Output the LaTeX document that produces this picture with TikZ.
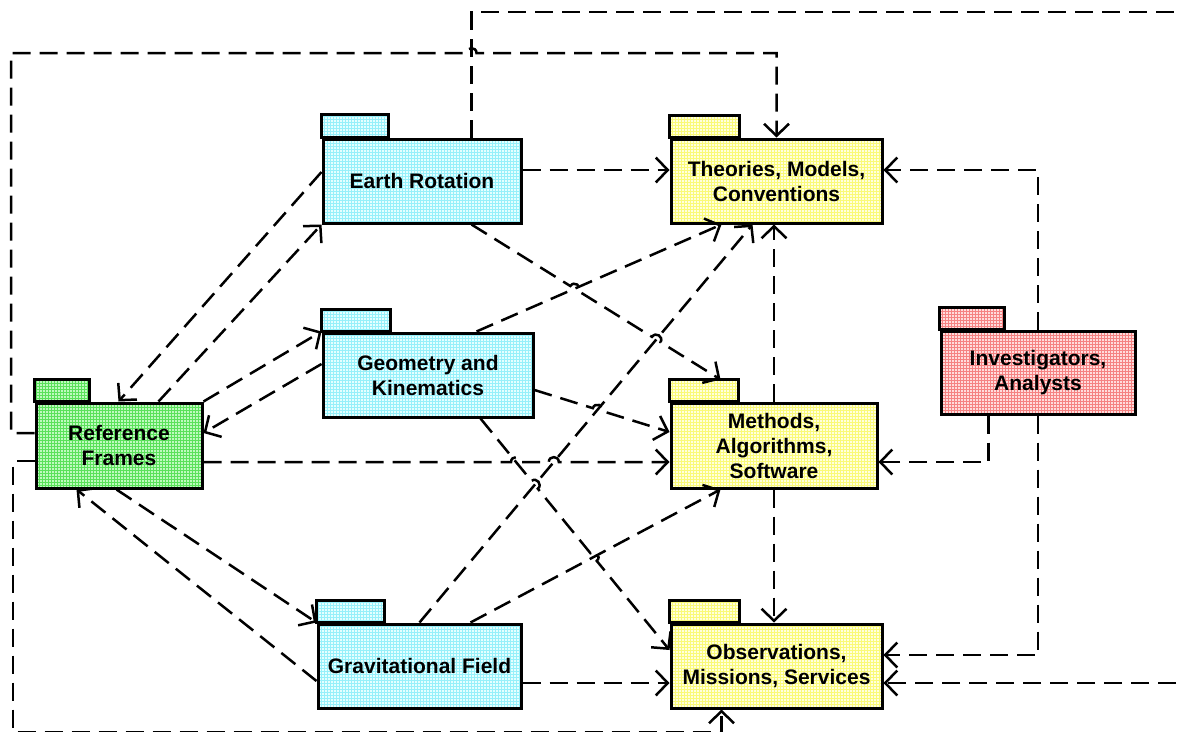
\documentclass[tikz,border=0pt]{standalone}
\usepackage{fontspec}
\setmainfont{Liberation Sans}
\usetikzlibrary{arrows.meta,calc,patterns,intersections}

\definecolor{cyanbg}{RGB}{228,255,255}
\definecolor{cyanln}{RGB}{150,240,250}
\definecolor{yelbg}{RGB}{255,255,222}
\definecolor{yelln}{RGB}{250,250,120}
\definecolor{grnbg}{RGB}{190,250,190}
\definecolor{grnln}{RGB}{90,225,90}
\definecolor{redbg}{RGB}{255,220,220}
\definecolor{redln}{RGB}{245,130,130}

\newcommand\pkgfont{\fontsize{21}{25}\selectfont\bfseries}
\newcommand\hoprad{5pt}
% a small jump over a crossing line: #1 start of the line, #2 crossing, #3 end of the line
\newcommand\hopover[3]{-- ($(#2)!\hoprad!(#1)$)
  .. controls ($(#2)!\hoprad!(#1)!1.3!90:(#2)$) and ($(#2)!\hoprad!(#3)!1.3!-90:(#2)$)
  .. ($(#2)!\hoprad!(#3)$)}

\tikzset{
  pkg/.style 2 args={draw, line width=3pt, inner sep=0pt, align=center,
    font=\pkgfont, preaction={fill=#1}, pattern=grid, pattern color=#2},
  pkgtab/.style 2 args={draw, line width=3pt, preaction={fill=#1},
    pattern=grid, pattern color=#2},
  dep/.style={line width=2.5pt, dash pattern=on 18pt off 9pt,
    -{Straight Barb[length=12pt,width=25pt]}},
}

\begin{document}
\begin{tikzpicture}[x=1pt,y=-1pt]
\useasboundingbox (0,0) rectangle (1182,731);

% package bodies
\node[pkg={cyanbg}{cyanln}, minimum width=198pt, minimum height=84pt] (er) at (422,181) {Earth Rotation};
\node[pkg={yelbg}{yelln}, minimum width=211pt, minimum height=84pt] (th) at (776.5,181) {Theories, Models,\\Conventions};
\node[pkg={cyanbg}{cyanln}, minimum width=210pt, minimum height=84pt] (geo) at (428,375) {Geometry and\\Kinematics};
\node[pkg={grnbg}{grnln}, minimum width=166pt, minimum height=85pt] (rf) at (119,445.5) {Reference\\Frames};
\node[pkg={yelbg}{yelln}, minimum width=206pt, minimum height=85pt] (me) at (774,445.5) {Methods,\\Algorithms,\\Software};
\node[pkg={redbg}{redln}, minimum width=194pt, minimum height=83pt] (inv) at (1038,372.5) {Investigators,\\Analysts};
\node[pkg={cyanbg}{cyanln}, minimum width=203pt, minimum height=84pt] (gr) at (419.5,666) {Gravitational Field};
\node[pkg={yelbg}{yelln}, minimum width=211pt, minimum height=84pt] (ob) at (776.5,666) {Observations,\\Missions, Services};

% package tabs
\draw[pkgtab={cyanbg}{cyanln}] (er.north west) rectangle ++(67,-23);
\draw[pkgtab={yelbg}{yelln}] (th.north west) rectangle ++(70,-22);
\draw[pkgtab={cyanbg}{cyanln}] (geo.north west) rectangle ++(69,-22);
\draw[pkgtab={grnbg}{grnln}] (rf.north west) rectangle ++(55,-22);
\draw[pkgtab={yelbg}{yelln}] (me.north west) rectangle ++(69,-22);
\draw[pkgtab={redbg}{redln}] (inv.north west) rectangle ++(65,-22);
\draw[pkgtab={cyanbg}{cyanln}] (gr.north west) rectangle ++(68,-22);
\draw[pkgtab={yelbg}{yelln}] (ob.north west) rectangle ++(70,-22);

% attachment points
\coordinate (er-t) at ([xshift=150pt]er.north west);
\coordinate (er-b) at ([xshift=150pt]er.south west);
\coordinate (er-r) at ([yshift=11pt]er.east);
\coordinate (er-l) at ([yshift=9pt]er.west);
\coordinate (th-l) at ([yshift=11pt]th.west);
\coordinate (th-r) at ([yshift=11pt]th.east);
\coordinate (th-b1) at ([xshift=52pt]th.south west);
\coordinate (th-b2) at ([xshift=83pt]th.south west);
\coordinate (geo-l) at ([yshift=11pt]geo.west);
\coordinate (geo-t) at ([xshift=155pt]geo.north west);
\coordinate (geo-r) at ([yshift=-15pt]geo.east);
\coordinate (geo-b) at ([xshift=159pt]geo.south west);
\coordinate (rf-l1) at ([yshift=12.5pt]rf.west);
\coordinate (rf-l2) at ([yshift=-15.5pt]rf.west);
\coordinate (rf-r1) at ([yshift=12.5pt]rf.east);
\coordinate (rf-r2) at ([yshift=-16.5pt]rf.east);
\coordinate (rf-t1) at ([xshift=84pt]rf.north west);
\coordinate (rf-t2) at ([xshift=124pt]rf.north west);
\coordinate (rf-b1) at ([xshift=42pt]rf.south west);
\coordinate (rf-b2) at ([xshift=82pt]rf.south west);
\coordinate (me-tab) at ([xshift=51pt,yshift=22pt]me.north west);
\coordinate (me-l1) at ([yshift=13.5pt]me.west);
\coordinate (me-l2) at ([yshift=-16.5pt]me.west);
\coordinate (me-r) at ([yshift=-16.5pt]me.east);
\coordinate (me-b) at ([xshift=51pt]me.south west);
\coordinate (inv-b) at ([xshift=49pt]inv.south west);
\coordinate (gr-l) at ([yshift=-15pt]gr.west);
\coordinate (gr-t1) at ([xshift=103pt]gr.north west);
\coordinate (gr-t2) at ([xshift=154pt]gr.north west);
\coordinate (gr-r) at ([yshift=-17pt]gr.east);
\coordinate (ob-l1) at ([yshift=16pt]ob.west);
\coordinate (ob-l2) at ([yshift=-17pt]ob.west);
\coordinate (ob-r1) at ([yshift=11pt]ob.east);
\coordinate (ob-r2) at ([yshift=-17pt]ob.east);
\coordinate (ob-b) at ([xshift=52pt]ob.south west);
% bends of the long routed connectors
\coordinate (bend-tl) at (11,53);
\coordinate (bend-bl) at (13,732);
\coordinate (bend-tr) at (1195,12);

% crossings that get a jump
\path[name path=erme] (er-b) -- (me-tab);
\path[name path=geoth] (geo-t) -- (th-b1);
\path[name path=grth] (gr-t1) -- (th-b2);
\path[name path=geome] (geo-r) -- (me-l1);
\path[name path=geoob] (geo-b) -- (ob-l1);
\path[name path=grme] (gr-t2) -- (me-b);
\path[name path=rfme] (rf-r2) -- (me-l2);
\path[name intersections={of=erme and geoth, by=x-b}];
\path[name intersections={of=erme and grth, by=x-c}];
\path[name intersections={of=geome and grth, by=x-d}];
\path[name intersections={of=rfme and geoob, by=x-e}];
\path[name intersections={of=rfme and grth, by=x-f}];
\path[name intersections={of=geoob and grth, by=x-g}];
\path[name intersections={of=geoob and grme, by=x-h}];
\coordinate (x-a) at (er-t |- bend-tl);

% dependencies
\draw[dep] (er-r) -- (th-l);
\draw[dep] (er-b) \hopover{er-b}{x-b}{me-tab} \hopover{er-b}{x-c}{me-tab} -- (me-tab);
\draw[dep] (er-t) |- (bend-tr) |- (ob-r2);
\draw[dep] (er-l) -- (rf-t1);
\draw[dep] (rf-t2) -- (er.south west);
\draw[dep] (rf.north east) -- (geo.north west);
\draw[dep] (geo-l) -- (rf-r1);
\draw[dep] (rf-b2) -- (gr.north west);
\draw[dep] (gr-l) -- (rf-b1);
\draw[dep] (rf-l1) -| (bend-tl) \hopover{bend-tl}{x-a}{th.north |- bend-tl} -| (th.north);
\draw[dep] (rf-l2) -| (bend-bl) -| (ob-b);
\draw[dep] (rf-r2) \hopover{rf-r2}{x-e}{me-l2} \hopover{rf-r2}{x-f}{me-l2} -- (me-l2);
\draw[dep] (geo-t) -- (th-b1);
\draw[dep] (geo-r) \hopover{geo-r}{x-d}{me-l1} -- (me-l1);
\draw[dep] (geo-b) \hopover{geo-b}{x-g}{ob-l1} \hopover{geo-b}{x-h}{ob-l1} -- (ob-l1);
\draw[dep] (gr-t1) -- (th-b2);
\draw[dep] (gr-t2) -- (me-b);
\draw[dep] (gr-r) -- (ob-l2);
\draw[dep] (me.north) -- (me.north |- th.south);
\draw[dep] (me.south) -- (me.south |- ob.north);
\draw[dep] (inv.north) |- (th-r);
\draw[dep] (inv-b) |- (me-r);
\draw[dep] (inv.south) |- (ob-r1);
\end{tikzpicture}
\end{document}
